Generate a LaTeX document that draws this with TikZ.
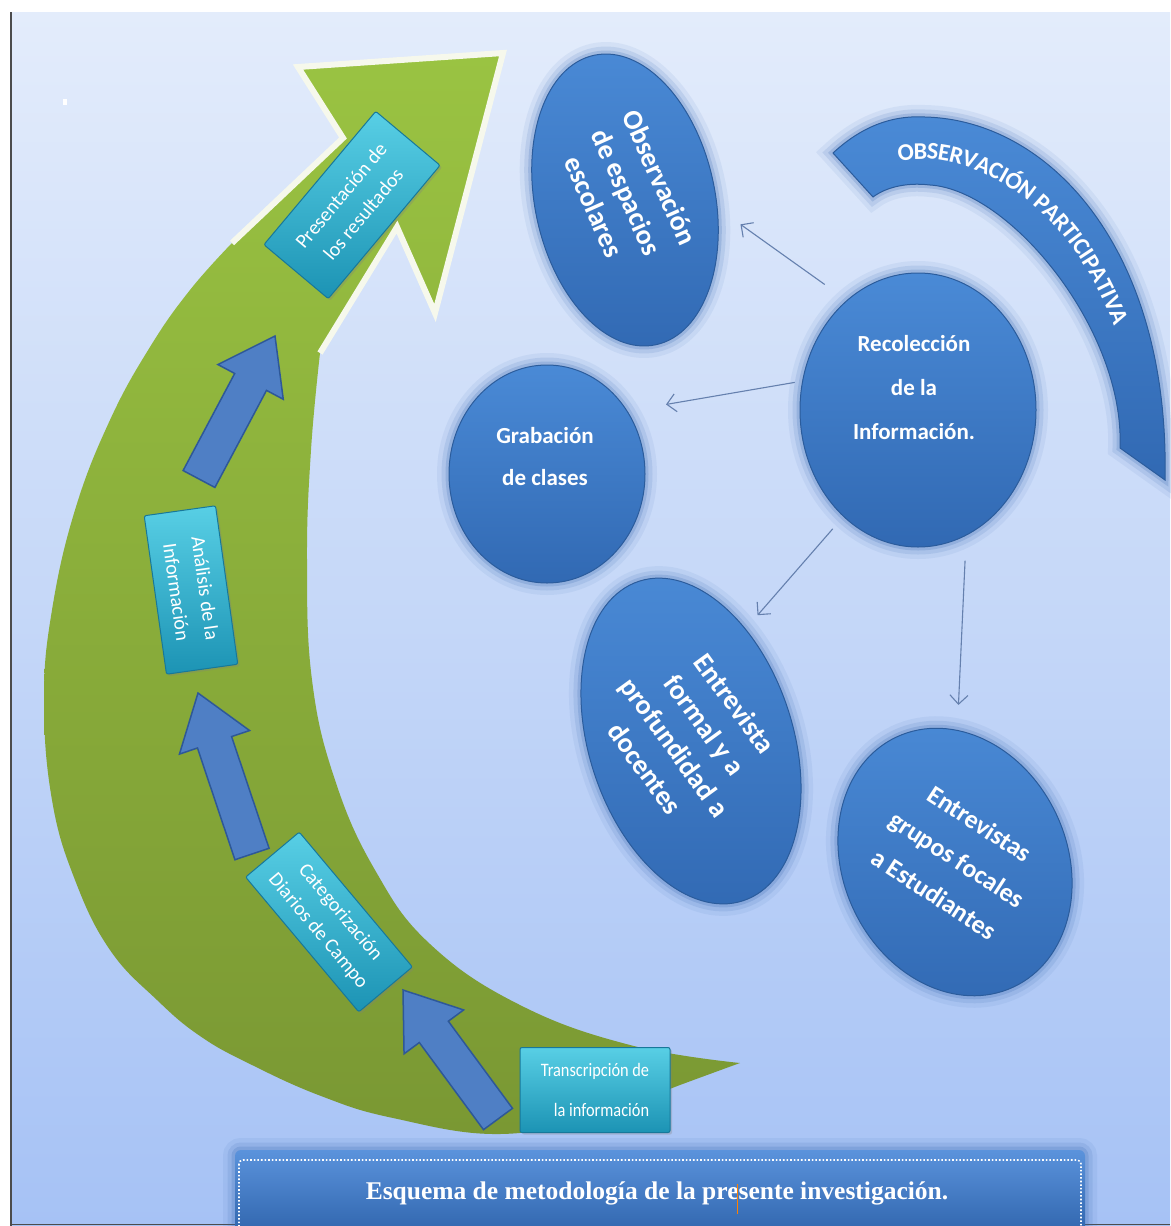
\documentclass[tikz,border=0pt]{standalone}
\usepackage{fontspec}
\newfontfamily\calfont{Carlito}
\newfontfamily\capfont{Liberation Serif}
\usetikzlibrary{shapes.geometric,calc,arrows.meta,decorations.text,shadows}
\definecolor{bgtop}{HTML}{E3ECFB}
\definecolor{bgbot}{HTML}{A6C2F5}
\definecolor{greentop}{HTML}{9AC342}
\definecolor{greenbot}{HTML}{7A9833}
\definecolor{bubtop}{HTML}{4A8AD6}
\definecolor{bubbot}{HTML}{3169B3}
\definecolor{bubedge}{HTML}{2B5C9C}
\definecolor{glowc}{HTML}{3567B0}
\definecolor{cyantop}{HTML}{58CFE5}
\definecolor{cyanbot}{HTML}{1C93B4}
\definecolor{cyanedge}{HTML}{17789A}
\definecolor{arrfill}{HTML}{4F7FC5}
\definecolor{arredge}{HTML}{2E5898}
\definecolor{connc}{HTML}{6580AE}
\definecolor{captop}{HTML}{5B93DC}
\definecolor{capbot}{HTML}{2D62AA}
\definecolor{headline}{HTML}{F6F8EC}
\tikzset{
 glow/.style={preaction={draw=glowc, draw opacity=0.08, line width=24pt},
              preaction={draw=glowc, draw opacity=0.13, line width=15pt},
              preaction={draw=glowc, draw opacity=0.20, line width=7pt}},
 bub/.style={glow, ellipse, inner sep=0pt, draw=bubedge, line width=1pt, top color=bubtop, bottom color=bubbot},
 bandsty/.style={glow, draw=bubedge, line width=1pt, top color=bubtop, bottom color=bubbot},
 btxt/.style={text=white, align=center, inner sep=0pt},
 cbox/.style={rectangle, rounded corners=2pt, draw=cyanedge, line width=1pt, top color=cyantop, bottom color=cyanbot, inner sep=0pt, text=white, align=center, font=\calfont\fontsize{20}{29}\selectfont, drop shadow={opacity=0.3, shadow xshift=2pt, shadow yshift=-2pt}},
 conn/.style={draw=connc, line width=1.1pt, -{Straight Barb[length=9pt,width=18pt]}},
 barr/.style={fill=arrfill, draw=arredge, line width=1.5pt, line join=miter},
}
\newcommand\blockarr[2]{%
  \coordinate (ba-t) at (#1);
  \coordinate (ba-h) at (#2);
  \coordinate (ba-b) at ($(ba-h)!52pt!(ba-t)$);
  \draw[barr] ($(ba-t)!18pt!90:(ba-h)$) -- ($(ba-b)!18pt!90:(ba-h)$) -- ($(ba-b)!37pt!90:(ba-h)$) -- (ba-h)
     -- ($(ba-b)!37pt!-90:(ba-h)$) -- ($(ba-b)!18pt!-90:(ba-h)$) -- ($(ba-t)!18pt!-90:(ba-h)$) -- cycle;
}
\begin{document}
\begin{tikzpicture}[x=1pt,y=-1pt]
\useasboundingbox (0,0) rectangle (1170,1226);
\fill[white] (0,0) rectangle (1170,1226);
\shade[top color=bgtop, bottom color=bgbot] (11,12) rectangle (1170,1226);
\draw[gray!60!black, line width=1.5pt] (11,12) -- (11,1226);
\draw[gray!60!black, line width=1.5pt] (11,1224.5) -- (1170,1224.5);
\fill[white] (63,99) rectangle (67,105);

% green curved arrow
\shade[top color=greentop, bottom color=greenbot]
 (232,243) -- (343,138) -- (298,67) -- (503,53) -- (435,313) -- (397,227) -- (320,353)
 -- plot[smooth, tension=0.7] coordinates {(320,353) (311,450) (307,560) (312,680) (335,780) (375,870) (430,944) (520,1005) (630,1045) (740,1063)}
 -- plot[smooth, tension=0.7] coordinates {(740,1063) (680,1085) (600,1115) (500,1134) (393,1118) (321,1096) (250,1064) (200,1036) (157,1000) (110,950) (75,880) (52,800) (44,700) (52,610) (75,510) (110,420) (150,347) (190,290) (232,243)}
 -- cycle;
\draw[headline, line width=6pt, line join=miter, miter limit=20]
 (232,243) -- (343,138) -- (298,67) -- (503,53) -- (435,313) -- (397,227) -- (320,353);

% block arrows
\blockarr{199,479}{275,336}
\blockarr{252,854}{198,693}
\blockarr{498,1119}{403,990}

% cyan boxes
\node[cbox, minimum width=174pt, minimum height=84pt, rotate=50] (pres) at (352,205) {Presentación de\\los resultados};
\node[cbox, minimum width=160pt, minimum height=72pt, rotate=-82] (anal) at (191,590) {Análisis de la\\Información};
\node[cbox, minimum width=176pt, minimum height=70pt, rotate=-50] (cat) at (329,922) {Categorización\\Diarios de Campo};
\node[cbox, minimum width=150pt, minimum height=85pt, align=right, font=\calfont\fontsize{19}{40}\selectfont] (tra) at (595,1090) {\scalebox{0.86}[1]{Transcripción de}\\\scalebox{0.86}[1]{la información}};

% bubbles
\node[bub, minimum width=180pt, minimum height=296pt, rotate=12] (obs) at (625,200) {};
\node[btxt, rotate=-66, font=\calfont\bfseries\fontsize{28}{36}\selectfont] (obst) at (627,192) {Observación\\de espacios\\escolares};
\node[bub, minimum width=236pt, minimum height=274pt] (rec) at (918,410) {};
\node[btxt, font=\calfont\bfseries\fontsize{23}{44}\selectfont] (rect) at (914,388) {Recolección\\de la\\Información.};
\node[bub, minimum width=196pt, minimum height=218pt] (grab) at (547,474) {};
\node[btxt, font=\calfont\bfseries\fontsize{23}{42}\selectfont] (grabt) at (545,457) {Grabación\\de clases};
\node[bub, minimum width=204pt, minimum height=336pt, rotate=18] (ef) at (691,741) {};
\node[btxt, rotate=-54, font=\calfont\bfseries\fontsize{28}{37}\selectfont] (eft) at (690,736) {Entrevista\\formal y a\\profundidad a\\docentes};
\node[bub, minimum width=224pt, minimum height=276pt, rotate=25] (eg) at (955,862) {};
\node[btxt, rotate=-33, font=\calfont\bfseries\fontsize{26}{42}\selectfont] (egt) at (957,859) {Entrevistas\\grupos focales\\a Estudiantes};

% band
\path[bandsty] (833,153) .. controls (860,128) and (890,115) .. (925,117)
  .. controls (1050,120) and (1170,250) .. (1165,480) -- (1120,448)
  .. controls (1125,330) and (1010,190) .. (930,185)
  .. controls (905,182) and (885,188) .. (873,197) -- cycle;
\path[decorate, decoration={text along path, text={|\calfont\bfseries\fontsize{24}{24}\selectfont|OBSERVACIÓN PARTICIPATIVA}, text color=white, text align={align=left, left indent=50pt}, raise=-8pt}]
  (853,175) .. controls (875,158) and (900,150) .. (927,151) .. controls (1040,158) and (1148,285) .. (1142,464);

% connectors
\draw[conn, shorten <=27pt, shorten >=28pt] (rec.123) -- (obs.-17);
\draw[conn, shorten <=7.5pt, shorten >=39pt] (rec.166) -- (grab.38);
\draw[conn, shorten <=16pt, shorten >=18pt] (rec.235) -- (ef.46);
\draw[conn, shorten <=25pt, shorten >=25pt] (rec.291) -- (eg.64);

% caption
\path[glow, top color=captop, bottom color=capbot, rounded corners=6pt] (235,1150) rectangle (1085,1240);
\draw[white, dotted, line width=1.6pt, rounded corners=4pt] (239,1160) rectangle (1081,1240);
\node[text=white, font=\capfont\bfseries\fontsize{25.5}{26}\selectfont, inner sep=0pt] (cap) at (657,1193) {Esquema de metodología de la presente investigación.};
\draw[orange, line width=1pt] (737,1184) -- (737,1214);
\end{tikzpicture}
\end{document}
